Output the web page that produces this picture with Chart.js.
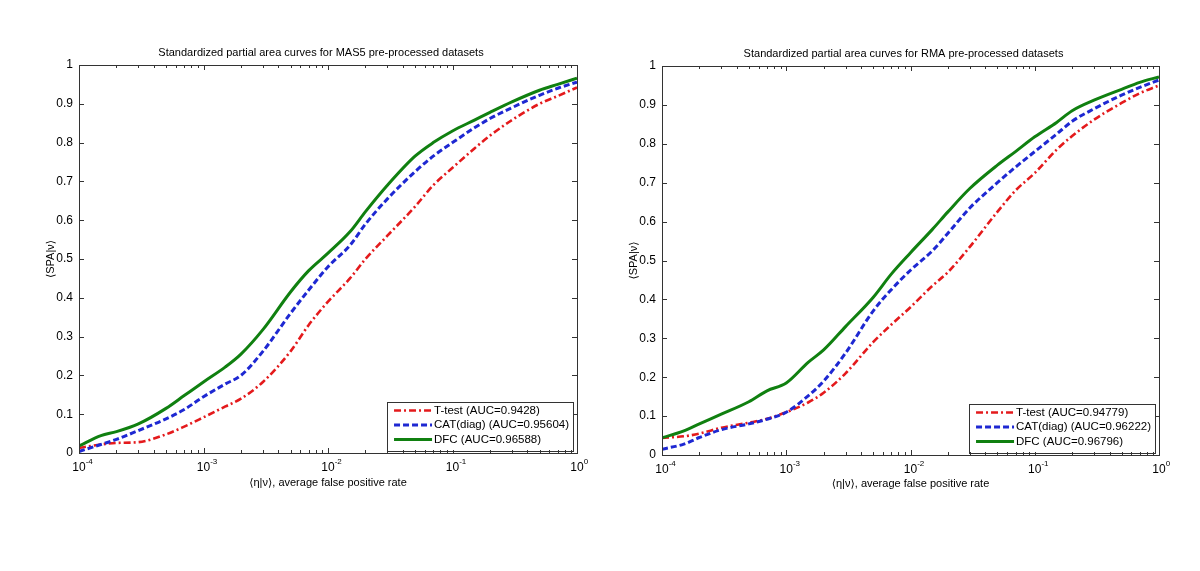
<!DOCTYPE html>
<html>
<head>
<meta charset="utf-8">
<script src="https://cdn.jsdelivr.net/npm/chart.js@4.4.0/dist/chart.umd.min.js"></script>
<style>
    body { margin: 0; background: #fff; }
    #wrap { position: relative; width: 1200px; height: 571px; }
    canvas { position: absolute; top: 0; }
    #chartMas5 { left: 0; }
    #chartRma { left: 600px; }
</style>
</head>
<body>
<div id="wrap">
    <canvas id="chartMas5" width="600" height="571"></canvas>
    <canvas id="chartRma" width="600" height="571"></canvas>
</div>
<script>
// average false positive rate (x), shared by all curves
const fpr = [1e-4, 1.5e-4, 2e-4, 3e-4, 5e-4, 7e-4, 1e-3, 1.5e-3, 2e-3, 3e-3, 5e-3, 7e-3,
             1e-2, 1.5e-2, 2e-2, 3e-2, 5e-2, 7e-2, 0.1, 0.15, 0.2, 0.3, 0.5, 0.7, 1];

// MAS5 pre-processed
const mas5Ttest = [0.013, 0.022, 0.026, 0.028, 0.048, 0.068, 0.092, 0.12, 0.14, 0.183, 0.262, 0.33,
                   0.39, 0.45, 0.5, 0.56, 0.635, 0.69, 0.735, 0.785, 0.818, 0.858, 0.9, 0.92, 0.942];
const mas5Cat   = [0.004, 0.022, 0.035, 0.058, 0.088, 0.112, 0.145, 0.178, 0.2, 0.262, 0.36, 0.42,
                   0.48, 0.535, 0.59, 0.655, 0.725, 0.765, 0.8, 0.838, 0.862, 0.89, 0.922, 0.94, 0.956];
const mas5Dfc   = [0.018, 0.045, 0.055, 0.075, 0.115, 0.148, 0.183, 0.222, 0.255, 0.318, 0.415, 0.47,
                   0.515, 0.57, 0.622, 0.69, 0.765, 0.8, 0.83, 0.858, 0.878, 0.905, 0.935, 0.95, 0.966];

// RMA pre-processed
const rmaTtest = [0.044, 0.048, 0.055, 0.07, 0.083, 0.093, 0.11, 0.135, 0.16, 0.21, 0.29, 0.335,
                  0.38, 0.435, 0.47, 0.535, 0.625, 0.68, 0.725, 0.785, 0.82, 0.862, 0.905, 0.93, 0.95];
const rmaCat   = [0.015, 0.028, 0.045, 0.065, 0.08, 0.092, 0.11, 0.152, 0.19, 0.262, 0.37, 0.425,
                  0.475, 0.525, 0.57, 0.635, 0.7, 0.74, 0.78, 0.825, 0.858, 0.89, 0.925, 0.945, 0.964];
const rmaDfc   = [0.044, 0.062, 0.08, 0.105, 0.137, 0.165, 0.185, 0.238, 0.27, 0.33, 0.405, 0.465,
                  0.52, 0.58, 0.625, 0.685, 0.745, 0.78, 0.818, 0.855, 0.885, 0.912, 0.94, 0.958, 0.972];

const mas5Labels = ['T-test (AUC=0.9428)', 'CAT(diag) (AUC=0.95604)', 'DFC (AUC=0.96588)'];
const rmaLabels  = ['T-test (AUC=0.94779)', 'CAT(diag) (AUC=0.96222)', 'DFC (AUC=0.96796)'];

// x tick labels: 10 with exponent
const xDecades = [1e-4, 1e-3, 1e-2, 1e-1, 1];
const xExponents = ['-4', '-3', '-2', '-1', '0'];
const yTicks = [0, 0.1, 0.2, 0.3, 0.4, 0.5, 0.6, 0.7, 0.8, 0.9, 1];

const FONT = "'Liberation Sans', Arial, 'DejaVu Sans', sans-serif";
const BOX = '#333';

function toPoints(ys) {
    return fpr.map((x, i) => ({ x: x, y: ys[i] }));
}

// MATLAB-like frame: box, inner ticks, x labels with exponents, legend, title
const matlabFrame = {
    id: 'matlabFrame',
    afterDraw(chart) {
        const ctx = chart.ctx;
        const a = chart.chartArea;
        const xs = chart.scales.x, ys = chart.scales.y;
        ctx.save();

        // box
        ctx.strokeStyle = BOX;
        ctx.lineWidth = 1;
        ctx.strokeRect(Math.round(a.left) + 0.5, Math.round(a.top) + 0.5,
                       Math.round(a.right - a.left), Math.round(a.bottom - a.top));

        // x ticks (top and bottom, inside)
        ctx.beginPath();
        xs.ticks.forEach(t => {
            const px = Math.round(xs.getPixelForValue(t.value)) + 0.5;
            const major = xDecades.some(d => Math.abs(d - t.value) / d < 1e-6);
            const len = major ? 5 : 3;
            ctx.moveTo(px, a.bottom); ctx.lineTo(px, a.bottom - len);
            ctx.moveTo(px, a.top); ctx.lineTo(px, a.top + len);
        });
        // y ticks (left and right, inside)
        ys.ticks.forEach(t => {
            const py = Math.round(ys.getPixelForValue(t.value)) + 0.5;
            ctx.moveTo(a.left, py); ctx.lineTo(a.left + 5, py);
            ctx.moveTo(a.right, py); ctx.lineTo(a.right - 5, py);
        });
        ctx.stroke();

        // x tick labels: "10" centred on the tick, exponent raised
        ctx.fillStyle = '#000';
        xDecades.forEach((d, i) => {
            const px = xs.getPixelForValue(d);
            ctx.font = '12px ' + FONT;
            ctx.textAlign = 'center';
            ctx.textBaseline = 'alphabetic';
            ctx.fillText('10', px, a.bottom + 18);
            const w = ctx.measureText('10').width;
            ctx.font = '8px ' + FONT;
            ctx.textAlign = 'left';
            ctx.fillText(xExponents[i], px + w / 2, a.bottom + 11);
        });

        // title
        ctx.font = '11px ' + FONT;
        ctx.textAlign = 'center';
        ctx.textBaseline = 'middle';
        ctx.fillText(chart.options.plotTitle, (a.left + a.right) / 2 - 7, a.top - 12);

        // legend (lower right, inside the axes)
        const dsets = chart.data.datasets;
        ctx.font = '11.5px ' + FONT;
        const textW = Math.max(...dsets.map(d => ctx.measureText(d.label).width));
        const rowH = 14.5;
        const boxW = 47 + textW + 4;
        const boxH = rowH * dsets.length + 5;
        const bx = a.right - 4 - boxW;
        const by = a.bottom - 3 - boxH;
        ctx.fillStyle = '#fff';
        ctx.fillRect(bx, by, boxW, boxH);
        ctx.strokeStyle = BOX;
        ctx.strokeRect(Math.round(bx) + 0.5, Math.round(by) + 0.5, Math.round(boxW), Math.round(boxH));
        dsets.forEach((d, i) => {
            const cy = by + 9 + i * rowH;
            ctx.beginPath();
            ctx.strokeStyle = d.borderColor;
            ctx.lineWidth = d.borderWidth;
            ctx.setLineDash(d.borderDash || []);
            ctx.moveTo(bx + 7, cy);
            ctx.lineTo(bx + 45, cy);
            ctx.stroke();
            ctx.setLineDash([]);
            ctx.fillStyle = '#000';
            ctx.textAlign = 'left';
            ctx.textBaseline = 'middle';
            ctx.fillText(d.label, bx + 47, cy);
        });
        ctx.restore();
    }
};

function makeChart(canvasId, title, labels, tt, cat, dfc, pad) {
    const ctx = document.getElementById(canvasId).getContext('2d');
    return new Chart(ctx, {
        type: 'line',
        data: {
            datasets: [
                {
                    label: labels[0],
                    data: toPoints(tt),
                    borderColor: 'rgb(228, 26, 28)',
                    borderWidth: 2.6,
                    borderDash: [7, 3, 2, 3],
                    order: 3
                },
                {
                    label: labels[1],
                    data: toPoints(cat),
                    borderColor: 'rgb(30, 40, 210)',
                    borderWidth: 3,
                    borderDash: [6, 3],
                    order: 2
                },
                {
                    label: labels[2],
                    data: toPoints(dfc),
                    borderColor: 'rgb(16, 128, 16)',
                    borderWidth: 3,
                    order: 1
                }
            ]
        },
        options: {
            plotTitle: title,
            responsive: false,
            animation: false,
            elements: {
                point: { radius: 0 },
                line: { cubicInterpolationMode: 'monotone', fill: false }
            },
            layout: { padding: pad },
            plugins: {
                legend: { display: false },
                title: { display: false },
                tooltip: { enabled: false }
            },
            scales: {
                x: {
                    type: 'logarithmic',
                    min: 1e-4,
                    max: 1,
                    grid: { display: false, drawTicks: false },
                    border: { display: false },
                    afterBuildTicks: (scale) => {
                        const t = [];
                        xDecades.forEach((d, i) => {
                            if (i === xDecades.length - 1) { t.push({ value: d }); return; }
                            for (let k = 1; k <= 9; k++) t.push({ value: d * k });
                        });
                        scale.ticks = t;
                    },
                    ticks: { display: false },
                    afterFit: (scale) => { scale.height = 40; },
                    title: {
                        display: true,
                        text: '⟨η|ν⟩, average false positive rate',
                        color: '#000',
                        font: { family: FONT, size: 11 },
                        padding: { top: 0, bottom: pad.xTitle }
                    }
                },
                y: {
                    type: 'linear',
                    min: 0,
                    max: 1,
                    grid: { display: false, drawTicks: false },
                    border: { display: false },
                    afterBuildTicks: (scale) => {
                        scale.ticks = yTicks.map(v => ({ value: v }));
                    },
                    ticks: {
                        color: '#000',
                        padding: 6,
                        font: { family: FONT, size: 12 },
                        callback: (v) => String(Math.round(v * 10) / 10)
                    },
                    afterFit: (scale) => { scale.width = 35; },
                    title: {
                        display: true,
                        text: '⟨SPA|ν⟩',
                        color: '#000',
                        font: { family: FONT, size: 11 },
                        padding: { top: 0, bottom: 0 }
                    }
                }
            }
        },
        plugins: [matlabFrame]
    });
}

makeChart('chartMas5', 'Standardized partial area curves for MAS5 pre-processed datasets',
    mas5Labels, mas5Ttest, mas5Cat, mas5Dfc,
    { left: 44, right: 23, top: 65, bottom: 78, xTitle: 3.5 });

makeChart('chartRma', 'Standardized partial area curves for RMA pre-processed datasets',
    rmaLabels, rmaTtest, rmaCat, rmaDfc,
    { left: 27, right: 41, top: 66, bottom: 76, xTitle: 4.5 });
</script>
</body>
</html>
